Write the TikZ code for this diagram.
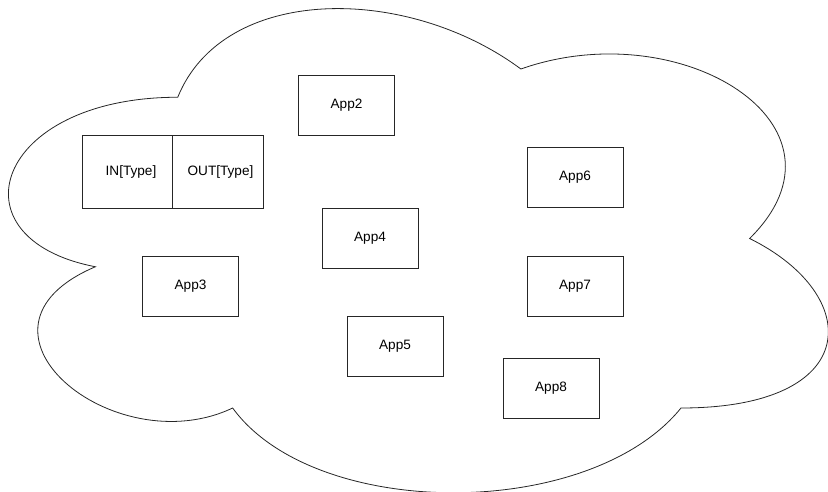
\documentclass[tikz,border=0pt]{standalone}
\usepackage{fontspec}
\setmainfont{Liberation Sans}
\begin{document}
\begin{tikzpicture}[x=1pt,y=-1pt,
  appbox/.style={draw=black!85, line width=0.8pt, minimum width=96pt, minimum height=60pt, inner sep=0pt, font=\fontsize{13.6}{16}\selectfont},
  halfbox/.style={draw=black!85, line width=0.8pt, minimum height=73pt, inner sep=0pt, font=\fontsize{13.6}{16}\selectfont},
  cloudline/.style={draw=black!85, line width=0.8pt}]
\useasboundingbox (0,0) rectangle (828,492);
\draw[cloudline] (177.75,97.25)
  .. controls (-5.25,97.25) and (-51,238.5) .. (95.4,266.75)
  .. controls (-51,328.9) and (113.7,464.5) .. (232.65,408)
  .. controls (315,521) and (589.5,521) .. (681,408)
  .. controls (864,408) and (864,295) .. (749.625,238.5)
  .. controls (864,125.5) and (681,12.5) .. (520.875,69)
  .. controls (406.5,-15.75) and (223.5,-15.75) .. (177.75,97.25) -- cycle;
\node[appbox] (app2) at (346.5,105) {App2};
\node[halfbox, minimum width=90pt] (in) at (127,171.5) {\hspace*{8pt}IN[Type]};
\node[halfbox, minimum width=91pt] (out) at (217.5,171.5) {\hspace*{6pt}OUT[Type]};
\node[appbox] (app4) at (370,238) {App4};
\node[appbox] (app3) at (190.5,286) {App3};
\node[appbox] (app5) at (395,346) {App5};
\node[appbox] (app6) at (575,177.5) {App6};
\node[appbox] (app7) at (575,286) {App7};
\node[appbox] (app8) at (551,388) {App8};
\end{tikzpicture}
\end{document}
